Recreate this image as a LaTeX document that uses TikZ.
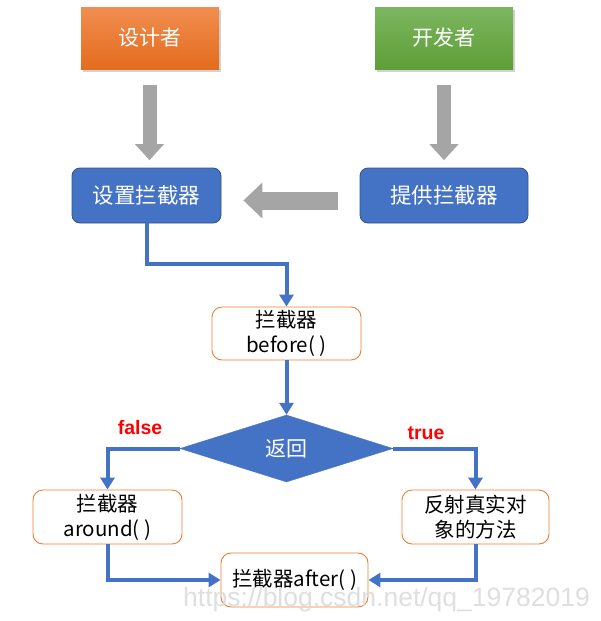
\documentclass[tikz,border=0pt]{standalone}
\usepackage{fontspec}
\newfontfamily\cjk{Noto Sans CJK SC}
\newfontfamily\latinsans{Liberation Sans}
\usetikzlibrary{arrows.meta,calc,shapes.geometric,shadows}

\definecolor{blueFill}{HTML}{4472C4}
\definecolor{blueEdge}{HTML}{2F528F}
\definecolor{orangeEdge}{HTML}{ED7D31}
\definecolor{orangeTop}{HTML}{F18E50}
\definecolor{orangeBot}{HTML}{E36C1E}
\definecolor{greenTop}{HTML}{7DB660}
\definecolor{greenBot}{HTML}{5E9E37}
\definecolor{bigArrow}{HTML}{A5A5A5}
\definecolor{markRed}{HTML}{FF0000}

\tikzset{
  rolebox/.style={rectangle, minimum width=138pt, minimum height=62pt,
    text=white, font=\cjk\fontsize{21}{24}\selectfont,
    drop shadow={shadow xshift=2pt, shadow yshift=-3pt, opacity=0.35}},
  bluebox/.style={rectangle, rounded corners=8pt, fill=blueFill, draw=blueEdge,
    line width=0.8pt, minimum height=55pt, text=white,
    font=\cjk\fontsize{21.5}{24}\selectfont},
  stepbox/.style={rectangle, rounded corners=10pt, fill=white, draw=orangeEdge,
    line width=0.9pt, minimum height=54pt, align=center, inner sep=1pt,
    font=\cjk\fontsize{20.5}{25}\selectfont},
  fatarrow/.style={draw=bigArrow, line width=14pt,
    -{Triangle[width=28pt,length=16pt]}},
  flow/.style={draw=blueFill, line width=4pt,
    -{Triangle[width=14pt,length=12pt]}},
  verdict/.style={text=markRed, font=\latinsans\bfseries\fontsize{19.5}{22}\selectfont}
}

\begin{document}
\begin{tikzpicture}[x=1pt,y=-1pt]
  \useasboundingbox (0,0) rectangle (601,621);

  % actors
  \node[rolebox, top color=orangeTop, bottom color=orangeBot] (des) at (150,38) {设计者};
  \node[rolebox, top color=greenTop, bottom color=greenBot] (dev) at (444,38) {开发者};

  % interceptor setup
  \node[bluebox, minimum width=149pt] (set) at (146.5,195.5) {设置拦截器};
  \node[bluebox, minimum width=168pt] (prov) at (444,195.5) {提供拦截器};

  % big grey arrows
  \coordinate (a1s) at ($(des.south)+(-0.5,16)$);
  \coordinate (a1e) at ($(des.south)+(-0.5,91)$);
  \coordinate (a2s) at ($(dev.south)+(0,16)$);
  \coordinate (a2e) at ($(dev.south)+(0,91)$);
  \draw[fatarrow] (a1s) -- (a1e);
  \draw[fatarrow] (a2s) -- (a2e);
  \coordinate (a3s) at ($(prov.west)+(-22,5)$);
  \coordinate (a3e) at ($(set.east)+(22,5)$);
  \draw[draw=bigArrow, line width=18pt, -{Triangle[width=35pt,length=19pt]}] (a3s) -- (a3e);

  % flow
  \node[stepbox, minimum width=149pt, minimum height=53pt] (before) at (286.5,333.5) {拦截器\\before( )};
  \node[diamond, fill=blueFill, draw=blueFill, inner sep=0pt,
        minimum width=213pt, minimum height=67pt, text=white,
        font=\cjk\fontsize{21}{24}\selectfont] (dec) at (286.5,448.5) {返回};
  \node[stepbox, minimum width=149pt] (around) at (107.5,517) {拦截器\\around( )};
  \node[stepbox, minimum width=147pt] (real) at (475.5,517) {反射真实对\\象的方法};
  \node[stepbox, minimum width=147pt] (after) at (294.5,580) {拦截器after( )};

  \draw[flow] (set.south) -- ++(0,40.5) -| (before.north);
  \draw[flow] (before.south) -- (dec.north);
  \draw[flow] (dec.west) -| (around.north);
  \draw[flow] (dec.east) -| (real.north);
  \draw[flow] (around.south) |- (after.west);
  \draw[flow] (real.south) |- (after.east);

  \node[verdict] (lf) at (140,428) {false};
  \node[verdict] (lt) at (426,433) {true};

  % watermark
  \node[anchor=base west, inner sep=0pt, text=black!14, opacity=0.9,
        font=\latinsans\fontsize{26.5}{28}\selectfont] (wm) at (183,606) {https://blog.csdn.net/qq\_19782019};
\end{tikzpicture}
\end{document}
